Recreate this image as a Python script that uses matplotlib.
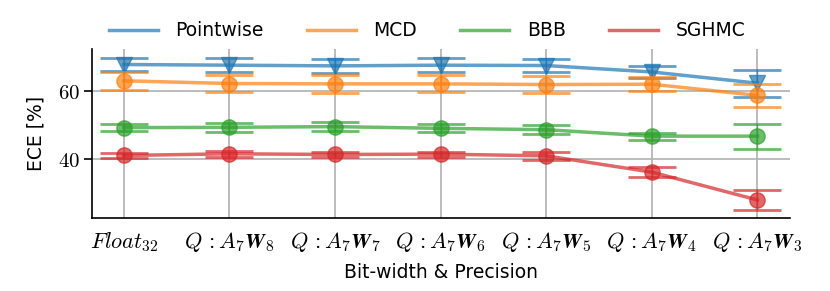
import matplotlib

matplotlib.use("Agg")
import matplotlib.pyplot as plt

plt.rcParams["mathtext.fontset"] = "cm"
plt.rcParams["font.family"] = "DejaVu Sans"

# precision settings on the x axis
precisions = [
    r"$Float_{32}$",
    r"$Q\,:A_7\mathbfit{W}_{\mathbf{8}}$",
    r"$Q\,:A_7\mathbfit{W}_{\mathbf{7}}$",
    r"$Q\,:A_7\mathbfit{W}_{\mathbf{6}}$",
    r"$Q\,:A_7\mathbfit{W}_{\mathbf{5}}$",
    r"$Q\,:A_7\mathbfit{W}_{\mathbf{4}}$",
    r"$Q\,:A_7\mathbfit{W}_{\mathbf{3}}$",
]

# mean ECE [%] and std per method
pointwise_mean = [67.8, 67.6, 67.4, 67.6, 67.5, 65.6, 62.3]
pointwise_std = [1.9, 2.0, 2.0, 2.0, 2.0, 1.9, 4.0]
mcd_mean = [63.0, 62.2, 62.1, 62.1, 61.9, 62.0, 58.7]
mcd_std = [2.6, 2.5, 2.6, 2.5, 2.5, 2.0, 3.5]
bbb_mean = [49.2, 49.3, 49.5, 49.0, 48.6, 46.7, 46.7]
bbb_std = [1.1, 1.4, 1.4, 1.2, 1.3, 1.0, 3.7]
sghmc_mean = [41.0, 41.5, 41.3, 41.4, 40.9, 36.1, 27.9]
sghmc_std = [0.7, 0.8, 0.8, 0.7, 1.1, 1.5, 3.0]

series = [
    ("Pointwise", pointwise_mean, pointwise_std, "tab:blue", "v"),
    ("MCD", mcd_mean, mcd_std, "tab:orange", "o"),
    ("BBB", bbb_mean, bbb_std, "tab:green", "o"),
    ("SGHMC", sghmc_mean, sghmc_std, "tab:red", "o"),
]

fig = plt.figure(figsize=(8.3, 2.91), dpi=100)
ax = fig.add_axes([0.111, 0.251, 0.841, 0.581])

x = list(range(len(precisions)))
handles = []
for label, mean, std, color, marker in series:
    ax.errorbar(x, mean, yerr=std, fmt="none", ecolor=color, elinewidth=1,
                capsize=17, capthick=2, alpha=0.7)
    ax.plot(x, mean, marker=marker, markersize=11, color=color, lw=2.5, alpha=0.7)
    h, = ax.plot([], [], color=color, lw=2.5, alpha=0.7, label=label)
    handles.append(h)

ax.set_xticks(x)
ax.set_xticklabels(precisions, fontsize=16)
ax.set_yticks([40, 60])
ax.set_yticklabels(["$40$", "$60$"], fontsize=15)
ax.tick_params(axis="x", length=0, pad=9)
ax.tick_params(axis="y", length=6, width=1.2, pad=3)
ax.set_xlim(-0.3, 6.31)
ax.set_ylim(22.6, 72.4)
ax.grid(True, color="#b0b0b0", lw=1.2)
for s in ["top", "right"]:
    ax.spines[s].set_visible(False)
for s in ["left", "bottom"]:
    ax.spines[s].set_linewidth(1.2)

ax.set_xlabel("Bit-width & Precision", fontsize=13.5, labelpad=6)
ax.set_ylabel("ECE [%]", fontsize=13.5, labelpad=9)

ax.legend(handles=handles, loc="lower center", bbox_to_anchor=(0.48, 0.95), ncol=4,
          frameon=False, fontsize=13.5, handlelength=2.6, handletextpad=0.95,
          columnspacing=2.3)

fig.savefig("out.png", dpi=100)
